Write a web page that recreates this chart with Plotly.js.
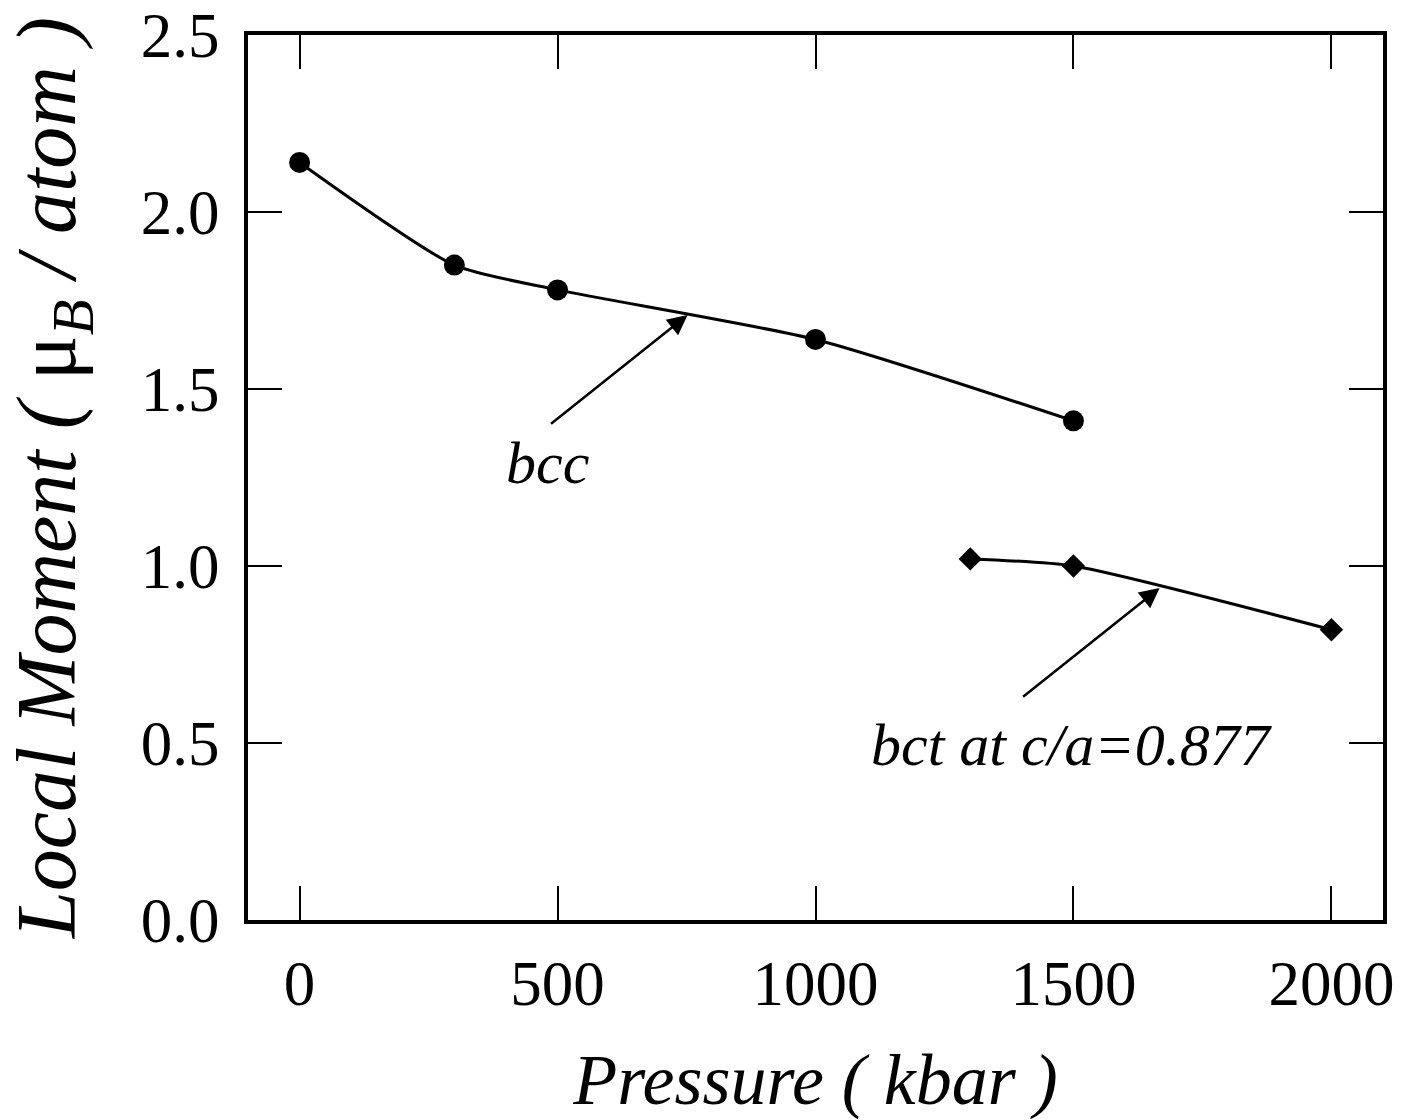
<!DOCTYPE html>
<html>
<head>
<meta charset="utf-8">
<script src="https://cdn.plot.ly/plotly-3.0.1.min.js"></script>
<style>html,body{margin:0;padding:0;background:#fff;}#chart{width:1405px;height:1120px;}</style>
</head>
<body>
<div id="chart"></div>
<script>
// Data
const bccPressure = [0, 300, 500, 1000, 1500];
const bccMoment   = [2.14, 1.85, 1.78, 1.64, 1.41];
const bctPressure = [1300, 1500, 2000];
const bctMoment   = [1.02, 1.00, 0.82];
const xTicks = [0, 500, 1000, 1500, 2000];
const yTicks = [0.0, 0.5, 1.0, 1.5, 2.0, 2.5];
const yTickText = ['0.0', '0.5', '1.0', '1.5', '2.0', '2.5'];

const FONT = '"Liberation Serif", "Times New Roman", Times, serif';

const traces = [
  {
    x: bccPressure, y: bccMoment, type: 'scatter', mode: 'lines+markers',
    line: {color: '#000', width: 3, shape: 'spline', smoothing: 0.6},
    marker: {symbol: 'circle', size: 21, color: '#000'},
    showlegend: false, hoverinfo: 'skip'
  },
  {
    x: bctPressure, y: bctMoment, type: 'scatter', mode: 'lines+markers',
    line: {color: '#000', width: 3, shape: 'spline', smoothing: 0.6},
    marker: {symbol: 'diamond', size: 18, color: '#000'},
    showlegend: false, hoverinfo: 'skip'
  }
];

const axisCommon = {
  showline: true, linecolor: '#000', linewidth: 4, mirror: 'ticks',
  ticks: 'inside', ticklen: 34, tickwidth: 2, tickcolor: '#000',
  showgrid: false, zeroline: false,
  tickfont: {family: FONT, size: 63, color: '#000'}
};

const layout = {
  width: 1405, height: 1120,
  paper_bgcolor: '#fff', plot_bgcolor: '#fff',
  margin: {l: 248, r: 22, t: 35, b: 200},
  xaxis: Object.assign({}, axisCommon, {
    range: [-100, 2100], tickmode: 'array', tickvals: xTicks,
    ticktext: xTicks.map(String), ticklabelstandoff: 5,
    title: {text: 'Pressure ( kbar )', font: {family: FONT, size: 72, color: '#000', style: 'italic'}, standoff: 55}
  }),
  yaxis: Object.assign({}, axisCommon, {
    range: [0, 2.5], tickmode: 'array', tickvals: yTicks, ticktext: yTickText,
    ticklabelstandoff: 12,
    title: {text: 'Local Moment ( <span style="font-style:normal">μ</span><sub>B</sub> / atom )', font: {family: FONT, size: 84, color: '#000', style: 'italic'}, standoff: 44}
  }),
  annotations: [
    {x: 752, y: 1.709, xref: 'x', yref: 'y', text: '', showarrow: true,
     axref: 'pixel', ayref: 'pixel', ax: -138, ay: 110,
     arrowhead: 2, arrowsize: 1.6, arrowwidth: 2.5, arrowcolor: '#000'},
    {x: 481, y: 1.29, xref: 'x', yref: 'y', text: 'bcc', showarrow: false,
     font: {family: FONT, size: 60, color: '#000', style: 'italic'}},
    {x: 1667, y: 0.938, xref: 'x', yref: 'y', text: '', showarrow: true,
     axref: 'pixel', ayref: 'pixel', ax: -138, ay: 110,
     arrowhead: 2, arrowsize: 1.6, arrowwidth: 2.5, arrowcolor: '#000'},
    {x: 1498, y: 0.494, xref: 'x', yref: 'y', text: 'bct at c/a=0.877', showarrow: false,
     font: {family: FONT, size: 60, color: '#000', style: 'italic'}}
  ]
};

Plotly.newPlot('chart', traces, layout, {staticPlot: true, displayModeBar: false});
</script>
</body>
</html>
